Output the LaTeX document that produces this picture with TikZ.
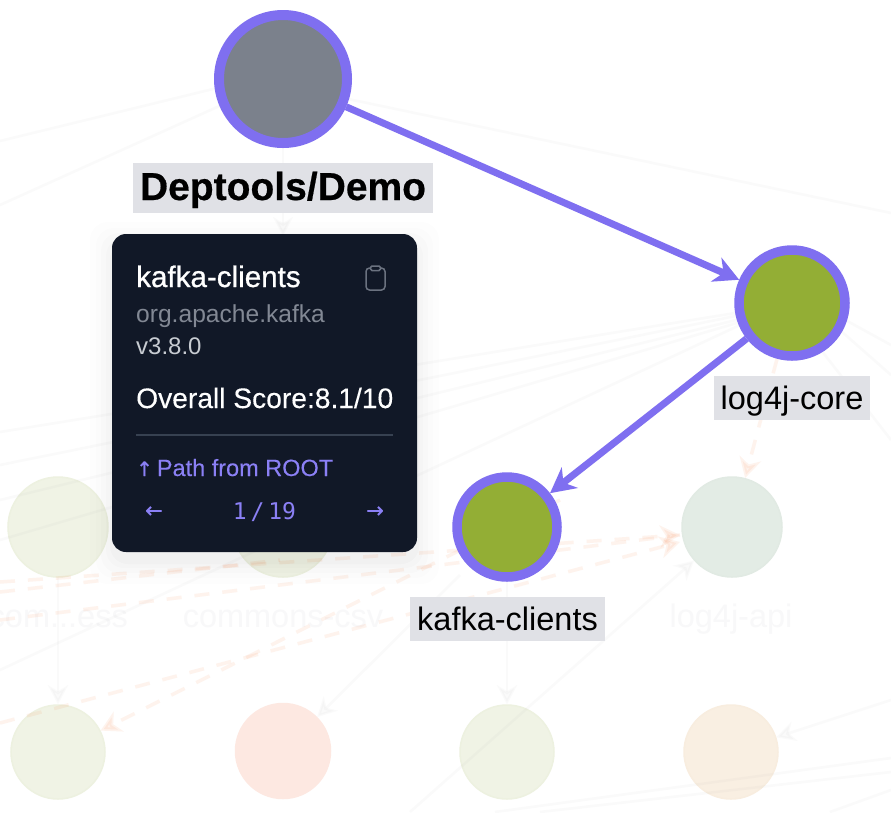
\documentclass[tikz,border=0pt]{standalone}
\usepackage{fontspec}
\setmainfont{Liberation Sans}
\newfontfamily\uifont{Liberation Sans}
\newfontfamily\uimedium[FakeBold=0.25]{Liberation Sans}
\newfontfamily\uibold[FakeBold=0.8]{Liberation Sans}
\newfontfamily\heavyfont[UprightFont=* Bold,FakeBold=0.5]{Liberation Sans}
\newfontfamily\pagerfont{DejaVu Sans Mono}
\newfontfamily\symfont[FakeBold=0.6]{DejaVu Sans}
\usetikzlibrary{arrows.meta}
\pgfdeclarelayer{paper}
\pgfdeclarelayer{fadednodes}
\pgfdeclarelayer{edges}
\pgfdeclarelayer{front}
\pgfdeclarelayer{tip}
\pgfsetlayers{paper,fadednodes,edges,main,front,tip}
\definecolor{violet}{HTML}{7F6FF0}
\definecolor{oliveg}{HTML}{93AE35}
\definecolor{rootgray}{HTML}{7B818C}
\definecolor{labelbg}{HTML}{E0E1E6}
\definecolor{tipbg}{HTML}{111827}
\definecolor{tipviolet}{HTML}{8B80F5}
\definecolor{gfill}{HTML}{F0F3E5}
\definecolor{gline}{HTML}{EDF1E0}
\definecolor{tfill}{HTML}{E3ECE5}
\definecolor{tline}{HTML}{E1EAE3}
\definecolor{rfill}{HTML}{FDE8E1}
\definecolor{ofill}{HTML}{F9EFE2}
\definecolor{oline}{HTML}{F8EDDF}
\definecolor{ghosttxt}{HTML}{F8F8F9}
\definecolor{tipgroup}{HTML}{828894}
\definecolor{tipver}{HTML}{C8CCD2}
\definecolor{tiprule}{HTML}{374151}
\definecolor{tipicon}{HTML}{6B7280}
\definecolor{salmon}{HTML}{FB7A3C}
\tikzset{
  mainnode/.style={circle,draw=violet,inner sep=0pt},
  ghost/.style={circle,inner sep=0pt,line width=1.5pt},
  ghosttext/.style={inner sep=0pt,text=ghosttxt,font=\uifont\fontsize{32.5}{36}\selectfont},
  maillabel/.style={fill=labelbg,inner sep=0pt,text=black,minimum height=44pt,text height=30pt,text depth=7pt,font=\fontsize{32.5}{36}\selectfont},
  pathedge/.style={draw=violet,line width=7pt,-{Stealth[length=25pt,width=26pt,inset=8pt]}},
  faint/.style={draw=gray!70,line width=2.5pt,opacity=.055},
  fainttip/.style={faint,-{Stealth[length=19pt,width=20pt,inset=6pt]}},
  dashedge/.style={draw=salmon,line width=3.5pt,opacity=.09,dash pattern=on 15pt off 13pt},
  dashtip/.style={dashedge,-{Stealth[length=20pt,width=22pt,inset=6pt]}},
  tiptext/.style={anchor=base west,inner sep=0pt},
}
\begin{document}
\begin{tikzpicture}[x=1pt,y=-1pt]
\clip (0,0) rectangle (891,812);
\begin{pgfonlayer}{paper}
  \fill[white] (0,0) rectangle (891,812);
\end{pgfonlayer}

\begin{pgfonlayer}{fadednodes}
  \node[ghost,minimum size=100pt,fill=gfill,draw=gline] (compress) at (58,527) {};
  \node[ghost,minimum size=100pt,fill=gfill,draw=gline] (csv) at (283,527) {};
  \node[ghost,minimum size=100pt,fill=tfill,draw=tline] (api) at (732,527) {};
  \node[ghost,minimum size=94pt,fill=gfill,draw=gline] (leafa) at (58,752) {};
  \node[ghost,minimum size=95pt,fill=rfill,draw=rfill] (leafb) at (283,751) {};
  \node[ghost,minimum size=94pt,fill=gfill,draw=gline] (leafc) at (507,752) {};
  \node[ghost,minimum size=94pt,fill=ofill,draw=oline] (leafd) at (731,752) {};
  \node[ghosttext] (csvtext) at (283,619) {commons-csv};
  \node[ghosttext] (apitext) at (731,619) {log4j-api};
  \node[ghosttext,anchor=east] (comptext) at (128,619) {com...ess};
\end{pgfonlayer}

\begin{pgfonlayer}{front}
  \node[mainnode,fill=rootgray,line width=10pt,minimum size=128pt] (root) at (283,79) {};
  \node[mainnode,fill=oliveg,line width=9.5pt,minimum size=106pt] (core) at (792,303) {};
  \node[mainnode,fill=oliveg,line width=9.5pt,minimum size=100pt] (kafka) at (507,527) {};
  \node[maillabel,minimum width=300pt,minimum height=50pt,text height=28pt,text depth=4pt,font=\heavyfont\fontsize{39}{42}\selectfont] (rootlabel) at (283,188) {Deptools/Demo};
  \node[maillabel,minimum width=156pt] (corelabel) at (792,398) {log4j-core};
  \node[maillabel,minimum width=195pt] (kafkalabel) at (507.5,619) {kafka-clients};
  \draw[pathedge] (root) -- (core);
  \draw[pathedge] (core) -- (kafka);
\end{pgfonlayer}

\begin{pgfonlayer}{edges}
  \coordinate (e1) at (0,141);
  \coordinate (e2) at (0,205);
  \coordinate (e3) at (891,213);
  \coordinate (e4) at (0,432);
  \coordinate (e5) at (0,465);
  \coordinate (e6) at (0,500);
  \coordinate (e7) at (0,540);
  \coordinate (e8) at (0,670);
  \coordinate (e9) at (891,345);
  \coordinate (e10) at (891,375);
  \coordinate (e11) at (891,440);
  \coordinate (e12) at (891,700);
  \coordinate (e13) at (891,758);
  \coordinate (e14) at (891,772);
  \coordinate (e15) at (495,812);
  \coordinate (e16) at (540,812);
  \coordinate (e17) at (410,812);
  \coordinate (e18) at (460,575);
  \coordinate (e19) at (891,790);
  \coordinate (e20) at (830,812);
  \draw[faint] (root.188) -- (e1);
  \draw[faint] (root.203) -- (e2);
  \draw[faint] (root.-17) -- (e3);
  \draw[fainttip] (root) -- (283,236);
  \draw[faint] (core.190) -- (e4);
  \draw[faint] (core.193) -- (e5);
  \draw[faint] (core.197) -- (e6);
  \draw[faint] (core.200) -- (e7);
  \draw[faint] (core.203) -- (e8);
  \draw[faint] (core.-18) -- (e9);
  \draw[faint] (core.-30) -- (e10);
  \draw[faint] (core.-58) -- (e11);
  \draw[fainttip] (compress) -- (leafa);
  \draw[fainttip] (kafka) -- (leafc);
  \draw[fainttip] (e12) -- (leafd);
  \draw[fainttip] (e17) -- (api);
  \draw[fainttip] (e18) -- (leafb);
  \draw[faint] (e13) -- (e15);
  \draw[faint] (e14) -- (e16);
  \draw[faint] (e19) -- (e20);
  \coordinate (d1) at (0,592);
  \coordinate (d2) at (0,582);
  \coordinate (d3) at (0,620);
  \coordinate (d4) at (0,723);
  \coordinate (d5) at (560,500);
  \coordinate (d6) at (680,535);
  \coordinate (d7) at (680,542);
  \coordinate (d8) at (280,560);
  \draw[dashtip] (d2) -- (d6);
  \draw[dashedge] (d3) -- (d6);
  \draw[dashtip] (d4) -- (d7);
  \draw[dashtip] (d5) -- (leafa);
  \draw[dashedge] (d1) -- (d8);
  \draw[dashtip] (core) -- (api);
\end{pgfonlayer}

\begin{pgfonlayer}{tip}
  \foreach \s/\o in {22/.006,16/.008,11/.01,6/.012,2/.015}{
    \fill[black,opacity=\o,rounded corners=18pt] (112-\s,234+10-\s) rectangle (417+\s,552+10+\s);
  }
  \node[fill=tipbg,rounded corners=14pt,inner sep=0pt,minimum width=305pt,minimum height=318pt] (card) at (264.5,393) {};
  \node[tiptext,text=white,font=\uibold\fontsize{29.6}{32}\selectfont] (name) at (136,287) {kafka-clients};
  \node[tiptext,text=tipgroup,font=\uifont\fontsize{24.6}{28}\selectfont] (group) at (136,322) {org.apache.kafka};
  \node[tiptext,text=tipver,font=\uifont\fontsize{24}{28}\selectfont] (ver) at (136,354) {v3.8.0};
  \node[tiptext,text=white,font=\uimedium\fontsize{28.2}{32}\selectfont] (score) at (136,408) {Overall Score:8.1/10};
  \coordinate (ruleL) at (136,435);
  \coordinate (ruleR) at (393,435);
  \draw[draw=tiprule,line width=1.5pt] (ruleL) -- (ruleR);
  \node[tiptext,text=tipviolet,font=\uimedium\fontsize{23.5}{28}\selectfont] (path) at (136,476) {{\symfont\fontsize{20}{24}\selectfont ↑}\,Path from ROOT};
  \node[inner sep=0pt,text=tipviolet,font=\symfont\fontsize{21}{24}\selectfont] (prev) at (154,512) {←};
  \node[inner sep=0pt,text=tipviolet,font=\symfont\fontsize{21}{24}\selectfont] (next) at (375,512) {→};
  \node[inner sep=0pt,text=tipviolet,font=\pagerfont\fontsize{23}{26}\selectfont] (pager) at (264.5,512) {1\,/\,19};
  \draw[draw=tipicon,line width=1.5pt,rounded corners=3.5pt] (366,268) rectangle (385,290);
  \draw[draw=tipicon,line width=1.5pt,fill=tipbg,rounded corners=1.5pt] (370.5,266) rectangle (380.5,270.5);
\end{pgfonlayer}
\end{tikzpicture}
\end{document}
